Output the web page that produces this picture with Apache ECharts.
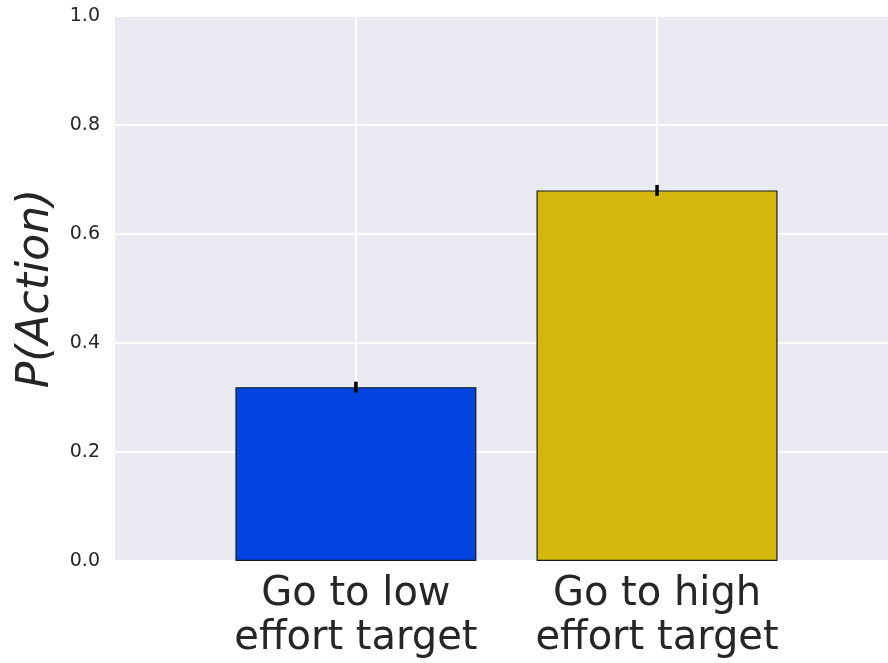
<!DOCTYPE html>
<html>
<head>
<meta charset="utf-8">
<script src="https://cdn.jsdelivr.net/npm/echarts@6/dist/echarts.min.js"></script>
<style>
  html, body { margin: 0; padding: 0; background: #ffffff; }
  #chart { width: 888px; height: 663px; }
</style>
</head>
<body>
<div id="chart"></div>
<script>
// Probability of each action, with its error half-width
const categories = ['Go to low\neffort target', 'Go to high\neffort target'];
const pAction = [0.319, 0.680];
const pError = [0.010, 0.010];
const barColors = ['#0343df', '#d4b70c'];

const TEXT = '#262626';
const FONT = 'DejaVu Sans';

const chart = echarts.init(document.getElementById('chart'), null, { renderer: 'canvas' });

const barData = pAction.map((v, i) => ({
  value: [i, v],
  itemStyle: { color: barColors[i] }
}));
const errData = pAction.map((v, i) => [i, v - pError[i], v + pError[i]]);
const catIdx = categories.map((_, i) => i);

chart.setOption({
  animation: false,
  backgroundColor: '#ffffff',
  grid: {
    left: 115, right: 0, top: 16, bottom: 102,
    show: true, backgroundColor: '#eaeaf2', borderWidth: 0
  },
  xAxis: {
    type: 'value',
    min: -0.8,
    max: 1.767,
    axisLine: { show: false },
    axisTick: { show: false, customValues: catIdx },
    splitLine: { show: true, lineStyle: { color: '#ffffff', width: 2 } },
    axisLabel: {
      customValues: catIdx,
      formatter: v => categories[Math.round(v)] || '',
      color: TEXT,
      fontFamily: FONT,
      fontSize: 40,
      lineHeight: 44,
      margin: 12,
      align: 'center'
    }
  },
  yAxis: {
    type: 'value',
    min: 0,
    max: 1,
    interval: 0.2,
    name: 'P(Action)',
    nameLocation: 'middle',
    nameGap: 53,
    nameTextStyle: {
      color: TEXT, fontFamily: FONT, fontSize: 44, fontStyle: 'italic'
    },
    axisLine: { show: false },
    axisTick: { show: false },
    splitLine: { show: true, lineStyle: { color: '#ffffff', width: 2 } },
    axisLabel: {
      formatter: v => v.toFixed(1),
      color: TEXT,
      fontFamily: FONT,
      fontSize: 19,
      margin: 15
    }
  },
  series: [
    {
      type: 'bar',
      data: barData,
      barWidth: 241,
      clip: false,
      itemStyle: { borderColor: '#1a1a1a', borderWidth: 1.2 },
      z: 2
    },
    {
      type: 'custom',
      data: errData,
      z: 3,
      renderItem: (params, api) => {
        const x = api.value(0);
        const lo = api.coord([x, api.value(1)]);
        const hi = api.coord([x, api.value(2)]);
        return {
          type: 'line',
          shape: { x1: lo[0], y1: lo[1], x2: hi[0], y2: hi[1] },
          style: { stroke: '#000000', lineWidth: 3.5 }
        };
      }
    }
  ]
});
</script>
</body>
</html>
